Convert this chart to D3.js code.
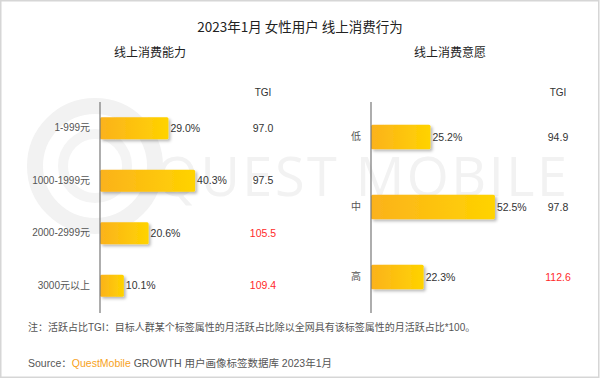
<!DOCTYPE html>
<html><head><meta charset="utf-8">
<script src="https://cdnjs.cloudflare.com/ajax/libs/d3/7.8.5/d3.min.js"></script>
<style>
html,body{margin:0;padding:0;background:#fff;}
svg{display:block;font-family:"Liberation Sans","Noto Sans CJK SC",sans-serif;}
</style></head><body>
<svg id="chart" width="600" height="379"></svg>
<script>
const title = "2023年1月 女性用户 线上消费行为";
const leftTitle = "线上消费能力";
const rightTitle = "线上消费意愿";
const leftCategories = ["1-999元","1000-1999元","2000-2999元","3000元以上"];
const leftValues = [29.0, 40.3, 20.6, 10.1];
const leftTGI = [97.0, 97.5, 105.5, 109.4];
const rightCategories = ["低","中","高"];
const rightValues = [25.2, 52.5, 22.3];
const rightTGI = [94.9, 97.8, 112.6];
const note = "注：活跃占比TGI：目标人群某个标签属性的月活跃占比除以全网具有该标签属性的月活跃占比*100。";

const svg = d3.select("#chart");
const defs = svg.append("defs");
const grad = defs.append("linearGradient").attr("id","barGrad").attr("x1","0%").attr("x2","100%");
grad.append("stop").attr("offset","0%").attr("stop-color","#FBB21C");
grad.append("stop").attr("offset","100%").attr("stop-color","#FFD300");
const f = defs.append("filter").attr("id","shadow").attr("x","-10%").attr("y","-20%").attr("width","130%").attr("height","160%");
f.append("feDropShadow").attr("dx",2).attr("dy",2).attr("stdDeviation",1.5).attr("flood-color","#000").attr("flood-opacity",0.28);

// border
svg.append("rect").attr("x",0.75).attr("y",0.75).attr("width",598).attr("height",376.5)
  .attr("fill","#fff").attr("stroke","#d6d6d6").attr("stroke-width",1.5);

// watermark
const wm = svg.append("g").attr("fill","none");
wm.append("circle").attr("cx",95).attr("cy",166).attr("r",60).attr("stroke","#f2f2f2").attr("stroke-width",16);
wm.append("circle").attr("cx",95).attr("cy",166).attr("r",32).attr("stroke","#f4f4f4").attr("stroke-width",10);
svg.append("text").attr("x",156).attr("y",196).attr("font-size",54).attr("fill","#f2f2f2")
  .attr("font-family","Open Sans, sans-serif").attr("letter-spacing",2.5).text("QUEST MOBILE");

svg.append("text").attr("x",300).attr("y",32).attr("text-anchor","middle").attr("font-size",13.5)
  .attr("font-family",'"Noto Sans CJK SC",sans-serif').attr("fill","#222").text(title);

function panel(cfg){
  const g = svg.append("g");
  g.append("text").attr("x",cfg.titleX).attr("y",57).attr("text-anchor","middle").attr("font-size",12)
    .attr("font-family",'"Noto Sans CJK SC",sans-serif').attr("fill","#222").text(cfg.title);
  const y = d3.scaleBand().domain(cfg.cats).range([102,312]).paddingInner(cfg.pad).paddingOuter(cfg.pad/2);
  const x = d3.scaleLinear().domain([0,100]).range([cfg.x0, cfg.x0+236]);
  g.selectAll("rect.bar").data(cfg.vals).join("rect").attr("class","bar")
    .attr("x",x(0)).attr("y",(d,i)=>y(cfg.cats[i])).attr("height",y.bandwidth())
    .attr("width",d=>x(d)-x(0)).attr("rx",1.5).attr("fill","url(#barGrad)").attr("filter","url(#shadow)");
  const axis = g.append("g").attr("transform",`translate(${cfg.x0},0)`)
    .call(d3.axisLeft(y).tickSize(0).tickPadding(10));
  axis.select(".domain").attr("stroke","#777").attr("stroke-width",1.2).attr("d",`M0,102V313`);
  axis.selectAll("text").attr("font-size",10).attr("fill","#555").attr("font-family",'"Liberation Sans","Noto Sans CJK SC",sans-serif');
  g.selectAll("text.val").data(cfg.vals).join("text").attr("class","val")
    .attr("x",d=>x(d)+2).attr("y",(d,i)=>y(cfg.cats[i])+y.bandwidth()/2).attr("dy","0.35em")
    .attr("font-size",10.5).attr("fill","#333").text(d=>d.toFixed(1)+"%");
  g.append("text").attr("x",cfg.tgiX).attr("y",96).attr("text-anchor","middle").attr("font-size",10).attr("fill","#333").text("TGI");
  g.selectAll("text.tgi").data(cfg.tgi).join("text").attr("class","tgi")
    .attr("x",cfg.tgiX).attr("y",(d,i)=>y(cfg.cats[i])+y.bandwidth()/2).attr("dy","0.35em")
    .attr("text-anchor","middle").attr("font-size",10.5).attr("fill",d=>d>100?"#FF2A2A":"#333").text(d=>d.toFixed(1));
}
panel({title:leftTitle,titleX:150,cats:leftCategories,vals:leftValues,tgi:leftTGI,x0:100,tgiX:263,pad:0.58});
panel({title:rightTitle,titleX:450,cats:rightCategories,vals:rightValues,tgi:rightTGI,x0:371,tgiX:558,pad:0.65});

svg.append("text").attr("x",28).attr("y",331).attr("font-size",10).attr("fill","#555").text(note);
const src = svg.append("text").attr("x",28).attr("y",367).attr("font-size",10.5).attr("fill","#555");
src.append("tspan").text("Source：");
src.append("tspan").attr("fill","#F7A21B").text("QuestMobile");
src.append("tspan").text(" GROWTH 用户画像标签数据库 2023年1月");
</script></body></html>
